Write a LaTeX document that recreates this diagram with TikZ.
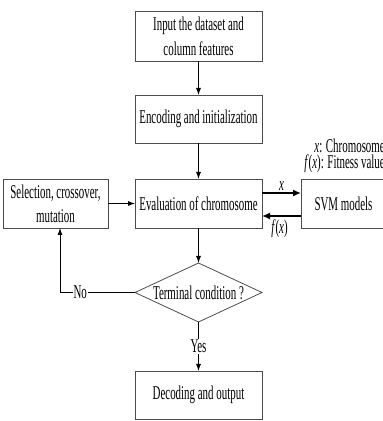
\documentclass[tikz,border=0pt]{standalone}
\usepackage{fontspec}
\setmainfont{Liberation Serif}[FakeStretch=0.56]
\usetikzlibrary{positioning, shapes.geometric, arrows.meta}

\begin{document}
\begin{tikzpicture}[x=1pt, y=1pt]
    \tikzstyle{stepbox} = [draw=black!70, line width=0.8pt, rectangle, minimum width=127pt, minimum height=49pt, inner sep=0pt, outer sep=0pt, align=center, font=\fontsize{19.5}{25}\selectfont];
    \tikzstyle{decision} = [draw=black!70, line width=0.8pt, diamond, aspect=2.15, minimum width=127pt, minimum height=59pt, inner sep=0pt, outer sep=0pt, font=\fontsize{19.5}{21}\selectfont];
    \tikzstyle{flow} = [-{Latex[length=7pt, width=5pt]}, line width=0.8pt];
    \tikzstyle{bold flow} = [-{Latex[length=8pt, width=7pt]}, line width=2pt];
    \tikzstyle{tag} = [font=\fontsize{19.5}{21}\selectfont, inner sep=1pt];

    \useasboundingbox (0, 0) rectangle (383, 421);

    \node[stepbox, minimum height=50pt] at (198.5, 385) (input) {Input the dataset and\\column features};
    \node[stepbox, below = 34pt of input, minimum height=48pt] (encode) {Encoding and initialization};
    \node[stepbox, below = 36pt of encode] (eval) {Evaluation of chromosome};
    \node[decision, below = 35pt of eval] (cond) {Terminal condition ?};
    \node[stepbox, below = 49pt of cond, minimum height=48pt] (output) {Decoding and output};

    \node[stepbox, left = 27pt of eval, minimum width=105pt, font=\fontsize{19.5}{24}\selectfont] (select) {Selection, crossover,\\mutation};
    \node[stepbox, right = 39pt of eval, minimum width=85pt] (svm) {SVM models};

    % legend for the two arrows
    \node[tag, inner sep=0pt, align=right, anchor=north east, font=\fontsize{19.5}{16}\selectfont] at (385, 282) (legend) {\textit{x}: Chromosome\\\textit{f}(\textit{x}): Fitness value};

    \draw[flow] (input.south) -- (encode.north);
    \draw[flow] (encode.south) -- (eval.north);
    \draw[flow] (eval.south) -- (cond.north);
    \draw[flow] (select.east) -- (eval.west);
    \draw[flow] (cond.south) -- node[tag, fill=white] (yes) {Yes} (output.north);

    \draw[bold flow] ([yshift=10.5pt]eval.east) -- node[tag, above] (xlabel) {\textit{x}} ([yshift=10.5pt]svm.west);
    \draw[bold flow] ([yshift=-12.5pt]svm.west) -- node[tag, below, xshift=-2pt, yshift=-2pt] (flabel) {\textit{f}(\textit{x})} ([yshift=-12.5pt]eval.east);

    % the No branch goes back to selection
    \coordinate (turn) at ([xshift=4.5pt]select.south |- cond.west);
    \draw[flow] (cond.west) -- node[tag, pos=0.73, fill=white] (no) {No} (turn) -- ([xshift=4.5pt]select.south);
\end{tikzpicture}
\end{document}
